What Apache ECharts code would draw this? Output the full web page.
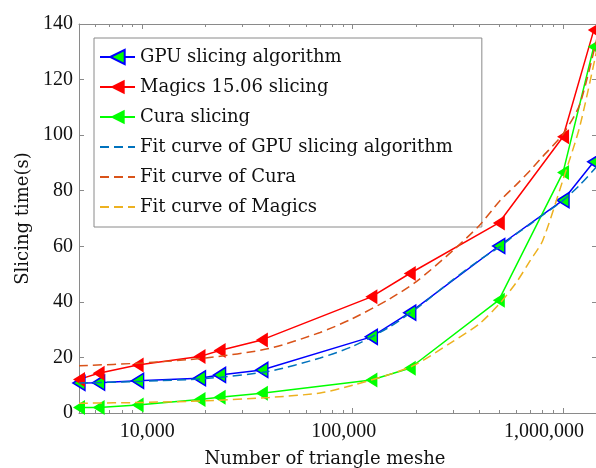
<!DOCTYPE html>
<html><head><meta charset="utf-8">
<script src="https://cdn.jsdelivr.net/npm/echarts@6/dist/echarts.min.js"></script>
<style>html,body{margin:0;padding:0;background:#fff}#c{width:596px;height:468px}</style>
</head><body><div id="c"></div>
<script>
// ---- data ----
const triangles   = [5000, 6200, 9500, 18700, 23300, 37000, 122700, 186800, 495000, 1000000, 1400000];
const gpuTime     = [10.8, 10.9, 11.6, 12.5, 13.7, 15.5, 27.4, 36.1, 60.1, 76.6, 90.4];
const magicsTime  = [12.1, 14.3, 17.3, 20.3, 22.5, 26.3, 41.8, 50.2, 68.4, 99.4, 137.8];
const curaTime    = [2.0, 2.0, 2.9, 4.9, 5.7, 7.1, 11.9, 16.1, 40.6, 86.6, 131.8];

const fitTriangles = [5000, 10000, 20000, 40000, 70000, 100000, 150000, 200000, 300000, 400000, 500000, 600000, 700000, 800000, 1000000, 1200000, 1450000];
const fitGpu       = [10.8, 11.4, 12.4, 15.0, 19.8, 24.0, 31.0, 37.5, 48.0, 55.0, 59.8, 64.5, 68.0, 71.2, 76.5, 82.0, 88.8];
const fitCura      = [17.0, 18.0, 19.8, 23.2, 29.0, 34.0, 41.1, 47.2, 58.5, 67.5, 76.3, 82.2, 87.4, 92.3, 100.4, 111.0, 135.0];
const fitMagics    = [3.5, 3.8, 4.4, 5.6, 7.2, 10.0, 13.9, 17.5, 25.8, 32.1, 39.4, 47.0, 55.0, 62.0, 84.0, 103.0, 131.0];

const xMin = 5000, xMax = 1450000;
const xMajorTicks = [10000, 100000, 1000000];
const xMinorTicks = [6000, 7000, 8000, 9000, 20000, 30000, 40000, 50000, 60000, 70000, 80000, 90000,
                     200000, 300000, 400000, 500000, 600000, 700000, 800000, 900000];
const yMin = 0, yMax = 140, yStep = 20;

const seriesNames = ['GPU slicing algorithm', 'Magics 15.06 slicing', 'Cura slicing',
  'Fit curve of GPU slicing algorithm', 'Fit curve of Cura', 'Fit curve of Magics'];
const xTitle = 'Number of triangle meshe';
const yTitle = 'Slicing time(s)';

// ---- build chart ----
const lg = Math.log10;
const pairs = (xs, ys) => xs.map((x, i) => [lg(x), ys[i]]);
const tickFont = 'Liberation Serif';
const textFont = 'DejaVu Serif';
const axisGray = '#8a8a8a';

// label styles that nudge the decade labels as they sit in the reference
const labelRich = {
  d4: { fontFamily: tickFont, fontSize: 20, color: '#111', padding: [0, 0, 0, 10] },
  d5: { fontFamily: tickFont, fontSize: 20, color: '#111', padding: [0, 18, 0, 0] },
  d6: { fontFamily: tickFont, fontSize: 20, color: '#111', padding: [0, 38, 0, 0] }
};

function xAxisDef(pos, ticks, len, showLine, showLabel) {
  return {
    type: 'value', position: pos, min: lg(xMin), max: lg(xMax),
    axisLine: { show: showLine, lineStyle: { color: axisGray, width: 1 } },
    axisTick: { show: true, inside: true, length: len, customValues: ticks.map(lg),
                lineStyle: { color: axisGray, width: 1 } },
    axisLabel: showLabel ? { show: true, customValues: ticks.map(lg), margin: 9,
      fontFamily: tickFont, fontSize: 20, color: '#111', rich: labelRich,
      formatter: v => '{d' + Math.round(v) + '|' + Math.round(Math.pow(10, v)).toLocaleString('en-US') + '}'
    } : { show: false },
    splitLine: { show: false }
  };
}

const xAxes = [
  Object.assign(xAxisDef('bottom', xMajorTicks, 5, true, true), {
    name: xTitle, nameLocation: 'middle', nameGap: 37,
    nameTextStyle: { fontFamily: textFont, fontSize: 18, color: '#111', padding: [0, 26, 0, 0] }
  }),
  xAxisDef('bottom', xMinorTicks, 3, false, false),
  xAxisDef('top', xMajorTicks, 5, true, false),
  xAxisDef('top', xMinorTicks, 3, false, false)
];

function yAxisDef(pos, showLabel) {
  return {
    type: 'value', position: pos, min: yMin, max: yMax, interval: yStep,
    axisLine: { show: true, lineStyle: { color: axisGray, width: 1 } },
    axisTick: { show: true, inside: true, length: 5, lineStyle: { color: axisGray } },
    axisLabel: { show: showLabel, margin: 6, fontFamily: tickFont, fontSize: 20, color: '#111',
                 padding: [5, 0, 0, 0] },
    splitLine: { show: false }
  };
}
const yAxes = [
  Object.assign(yAxisDef('left', true), {
    name: yTitle, nameLocation: 'middle', nameGap: 35, nameRotate: 90,
    nameTextStyle: { fontFamily: textFont, fontSize: 18, color: '#111' }
  }),
  yAxisDef('right', false)
];

const marker = { symbol: 'triangle', symbolSize: [15, 12], symbolRotate: 90 };
function dataSeries(name, ys, lineColor, fill, border) {
  return Object.assign({
    name, type: 'line', data: pairs(triangles, ys), showSymbol: true,
    lineStyle: { color: lineColor, width: 1.5 },
    itemStyle: { color: fill, borderColor: border, borderWidth: border === fill ? 0 : 1.5 },
    emphasis: { disabled: true }, z: 3
  }, marker);
}
function fitSeries(name, ys, color) {
  return {
    name, type: 'line', data: pairs(fitTriangles, ys), showSymbol: false, symbol: 'none',
    smooth: 0.25,
    lineStyle: { color, width: 1.5, type: [9, 5] },
    itemStyle: { color }, emphasis: { disabled: true }, z: 4
  };
}

const series = [
  dataSeries(seriesNames[0], gpuTime, '#0000ff', '#00ff00', '#0000ff'),
  dataSeries(seriesNames[1], magicsTime, '#ff0000', '#ff0000', '#ff0000'),
  dataSeries(seriesNames[2], curaTime, '#00ff00', '#00ff00', '#00ff00'),
  fitSeries(seriesNames[3], fitGpu, '#0072bd'),
  fitSeries(seriesNames[4], fitCura, '#d95319'),
  fitSeries(seriesNames[5], fitMagics, '#edb120')
];

const legendData = seriesNames.map((n, i) => i < 3 ? { name: n } : { name: n, itemStyle: { opacity: 0 } });

const chart = echarts.init(document.getElementById('c'), null, { renderer: 'canvas' });
chart.setOption({
  animation: false,
  backgroundColor: '#fff',
  grid: { left: 79, top: 24, right: -1, bottom: 55, containLabel: false, outerBoundsMode: 'none' },
  xAxis: xAxes,
  yAxis: yAxes,
  legend: {
    orient: 'vertical', left: 94, top: 38,
    itemWidth: 35, itemHeight: 18, itemGap: 12,
    padding: [10, 29, 11, 5],
    backgroundColor: '#fff', borderColor: '#8a8a8a', borderWidth: 1, borderRadius: 0,
    textStyle: { fontFamily: textFont, fontSize: 18, color: '#111', lineHeight: 18 },
    data: legendData,
    selectedMode: false
  },
  series
});
</script>
</body></html>
